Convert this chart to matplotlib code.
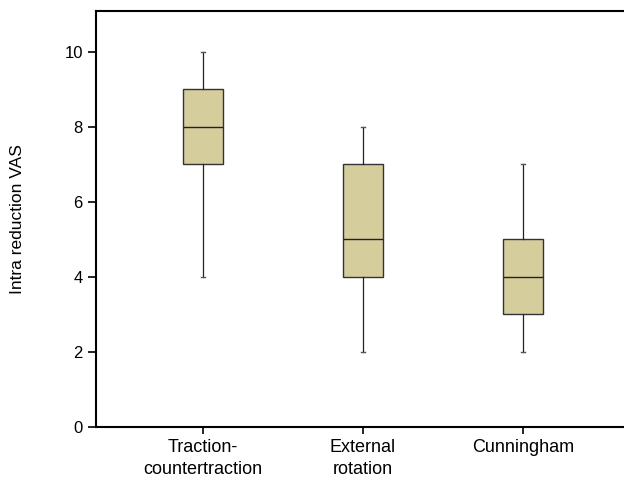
import matplotlib
matplotlib.use("Agg")
import matplotlib.pyplot as plt

plt.rcParams['font.family'] = ['Liberation Sans', 'DejaVu Sans']

groups = ['Traction-\ncountertraction', 'External\nrotation', 'Cunningham']
whislo = [4, 2, 2]
q1 = [7, 4, 3]
med = [8, 5, 4]
q3 = [9, 7, 5]
whishi = [10, 8, 7]

stats = []
for i in range(len(groups)):
    stats.append(dict(label=groups[i], whislo=whislo[i], q1=q1[i], med=med[i],
                      q3=q3[i], whishi=whishi[i], fliers=[]))

fig = plt.figure(figsize=(6.24, 4.82), dpi=100)
ax = fig.add_axes([96/624, 55/482, 528/624, 416/482])

ax.bxp(stats, positions=[1, 2, 3], widths=0.25, patch_artist=True,
       showfliers=False,
       boxprops=dict(facecolor='#d5cd9b', edgecolor='#333333', linewidth=1.0),
       medianprops=dict(color='#222222', linewidth=1.0),
       whiskerprops=dict(color='#222222', linewidth=0.9),
       capprops=dict(color='#555555', linewidth=1.0),
       capwidths=0.02)

ax.set_xlim(0.331, 3.631)
ax.set_ylim(0, 11.09)
ax.set_yticks([0, 2, 4, 6, 8, 10])
ax.spines['right'].set_visible(False)
for s in ['left', 'bottom', 'top']:
    ax.spines[s].set_linewidth(1.5)
ax.tick_params(axis='y', direction='out', length=6, width=1.2, labelsize=12, pad=3.5)
ax.tick_params(axis='x', direction='out', length=5, width=1.2, labelsize=13, pad=4)
for lbl in ax.get_xticklabels():
    lbl.set_linespacing(1.35)
ax.set_ylabel('Intra reduction VAS', fontsize=12.5, labelpad=28)

fig.savefig('out.png', dpi=100)
